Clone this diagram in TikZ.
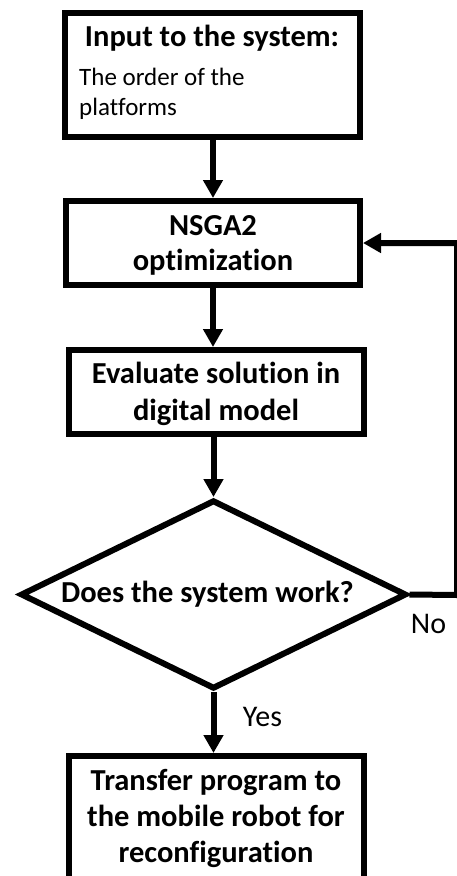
\documentclass[tikz,border=0pt]{standalone}
\usepackage{fontspec}
\setmainfont{Carlito}[Ligatures={NoCommon}]
\usetikzlibrary{arrows.meta,shapes.geometric}
\tikzset{
  stepbox/.style={draw=black, line width=6pt, fill=white, inner sep=0pt, rectangle},
  decbox/.style={draw=black, line width=6pt, fill=white, inner sep=0pt, diamond},
  flow/.style={draw=black, line width=6pt, -{Triangle[length=18pt,width=19pt]}},
  headtxt/.style={anchor=base, inner sep=0pt, font=\fontsize{30.5}{36}\selectfont\bfseries},
  bodytxt/.style={anchor=base west, inner sep=0pt, font=\fontsize{25}{30}\selectfont},
  edgetxt/.style={anchor=base, inner sep=0pt, font=\fontsize{30}{36}\selectfont},
}
\begin{document}
\begin{tikzpicture}[x=1pt,y=-1pt]
\useasboundingbox[fill=white] (0,0) rectangle (456,876);

% boxes of the flow
\node[stepbox, minimum width=295pt, minimum height=124pt] (input) at (212.5,75) {};
\node[stepbox, minimum width=294pt, minimum height=84pt] (opt) at (213,243) {};
\node[stepbox, minimum width=295pt, minimum height=84pt] (eval) at (216.5,392) {};
\node[decbox, minimum width=386pt, minimum height=189pt] (dec) at (213.5,594.5) {};
\node[stepbox, minimum width=295pt, minimum height=126pt] (final) at (216.5,819) {};

% texts inside the boxes
\node[headtxt] (inputT) at (212,46) {Input to the system:};
\node[bodytxt] (inputA) at (79,85) {The order of the};
\node[bodytxt] (inputB) at (79,115) {platforms};
\node[headtxt] (optA) at (213,235) {NSGA2};
\node[headtxt] (optB) at (213,270.5) {optimization};
\node[headtxt] (evalA) at (216,383) {Evaluate solution in};
\node[headtxt] (evalB) at (216,420) {digital model};
\node[headtxt] (decT) at (207.5,602) {Does the system work?};
\node[headtxt] (finalA) at (216,790) {Transfer program to};
\node[headtxt] (finalB) at (216,826.5) {the mobile robot for};
\node[headtxt] (finalC) at (216,862) {reconfiguration};

% connectors
\draw[flow] (input.south -| opt.north) -- (opt.north);
\draw[flow] (opt.south) -- (opt.south |- eval.north);
\draw[flow] (dec.north |- eval.south) -- (dec.north);
\draw[flow] (dec.south) -- (dec.south |- final.north);

% loop back when the check fails
\coordinate (loopR) at (457,595);
\coordinate (loopT) at (457,243);
\draw[flow] (dec.east) -- (loopR) -- (loopT) -- (opt.east);

% branch labels
\node[edgetxt] (yes) at (262.5,726) {Yes};
\node[edgetxt] (no) at (428.5,633) {No};
\end{tikzpicture}
\end{document}
